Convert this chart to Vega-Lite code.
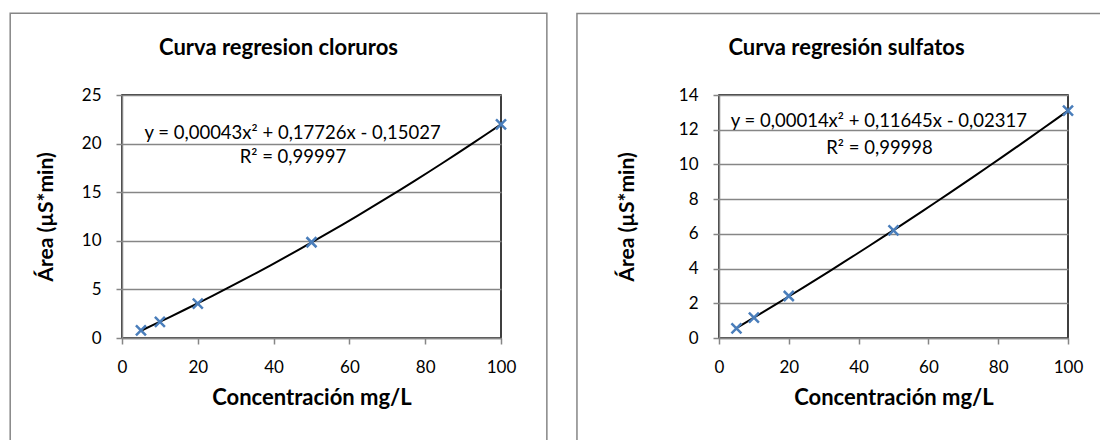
{
  "$schema": "https://vega.github.io/schema/vega-lite/v6.json",
  "autosize": {"type": "pad"},
  "padding": {"left": 8, "top": 11, "right": 0, "bottom": 0},
  "background": "white",
  "bounds": "flush",
  "spacing": 218,
  "datasets": {
    "cloruros": [
      {"conc": 5, "area": 0.79},
      {"conc": 10, "area": 1.65},
      {"conc": 20, "area": 3.53},
      {"conc": 50, "area": 9.85},
      {"conc": 100, "area": 21.98}
    ],
    "sulfatos": [
      {"conc": 5, "area": 0.56},
      {"conc": 10, "area": 1.17},
      {"conc": 20, "area": 2.42},
      {"conc": 50, "area": 6.2},
      {"conc": 100, "area": 13.1}
    ],
    "one": [{}]
  },
  "config": {
    "font": "Lato",
    "view": {"stroke": "black", "strokeWidth": 1.5},
    "title": {"font": "Lato", "fontSize": 22, "fontWeight": "bold", "color": "black", "anchor": "middle", "frame": "group", "baseline": "alphabetic"},
    "axis": {
      "labelFont": "Lato",
      "labelFontSize": 17,
      "labelColor": "black",
      "labelOverlap": false,
      "labelFlush": false,
      "titleFont": "Lato",
      "titleFontSize": 21,
      "titleFontWeight": "bold",
      "titleColor": "black",
      "domainColor": "#868686",
      "domainWidth": 1.5,
      "tickColor": "#868686",
      "tickWidth": 1.5,
      "tickSize": 6,
      "gridColor": "#868686",
      "gridWidth": 1.5,
      "labelPadding": 15
    },
    "axisX": {"grid": false, "titlePadding": 12, "titleFontSize": 22},
    "axisY": {"grid": true}
  },
  "hconcat": [
    {
      "width": 379,
      "height": 243,
      "title": {"text": "Curva regresion cloruros", "dx": -33, "offset": -47},
      "layer": [
        {
          "data": {"name": "one"},
          "mark": {"type": "rect", "fill": null, "stroke": "#868686", "strokeWidth": 1.5},
          "encoding": {
            "x": {"datum": -29.5, "type": "quantitative", "scale": {"domain": [0, 100], "nice": false}, "axis": {"values": [0, 20, 40, 60, 80, 100], "title": "Concentración mg/L"}},
            "x2": {"datum": 112.1},
            "y": {"datum": 33.4, "type": "quantitative", "scale": {"domain": [0, 25], "nice": false}, "axis": {"values": [0, 5, 10, 15, 20, 25], "title": "Área (µS*min)", "titlePadding": 25}},
            "y2": {"datum": -12}
          }
        },
        {
          "data": {"name": "cloruros"},
          "transform": [
            {"regression": "area", "on": "conc", "method": "poly", "order": 2, "extent": [5, 100]}
          ],
          "mark": {"type": "line", "color": "black", "strokeWidth": 2},
          "encoding": {
            "x": {"field": "conc", "type": "quantitative", "scale": {"domain": [0, 100], "nice": false}, "axis": {"values": [0, 20, 40, 60, 80, 100], "title": "Concentración mg/L"}},
            "y": {"field": "area", "type": "quantitative", "scale": {"domain": [0, 25], "nice": false}, "axis": {"values": [0, 5, 10, 15, 20, 25], "title": "Área (µS*min)", "titlePadding": 25}}
          }
        },
        {
          "data": {"name": "cloruros"},
          "mark": {"type": "point", "shape": "M-1,-1L1,1M-1,1L1,-1", "filled": false, "color": "#4a7ebb", "strokeWidth": 2.5, "size": 100, "opacity": 1},
          "encoding": {
            "x": {"field": "conc", "type": "quantitative", "scale": {"domain": [0, 100], "nice": false}, "axis": {"values": [0, 20, 40, 60, 80, 100], "title": "Concentración mg/L"}},
            "y": {"field": "area", "type": "quantitative", "scale": {"domain": [0, 25], "nice": false}, "axis": {"values": [0, 5, 10, 15, 20, 25], "title": "Área (µS*min)", "titlePadding": 25}}
          }
        },
        {
          "data": {"name": "one"},
          "mark": {"type": "text", "text": "y = 0,00043x² + 0,17726x - 0,15027", "fontSize": 18.5, "color": "black", "align": "center", "baseline": "middle"},
          "encoding": {
            "x": {"datum": 45.0, "type": "quantitative", "scale": {"domain": [0, 100], "nice": false}, "axis": {"values": [0, 20, 40, 60, 80, 100], "title": "Concentración mg/L"}},
            "y": {"datum": 21.1, "type": "quantitative", "scale": {"domain": [0, 25], "nice": false}, "axis": {"values": [0, 5, 10, 15, 20, 25], "title": "Área (µS*min)", "titlePadding": 25}}
          }
        },
        {
          "data": {"name": "one"},
          "mark": {"type": "text", "text": "R² = 0,99997", "fontSize": 18.5, "color": "black", "align": "center", "baseline": "middle"},
          "encoding": {
            "x": {"datum": 45.1, "type": "quantitative", "scale": {"domain": [0, 100], "nice": false}, "axis": {"values": [0, 20, 40, 60, 80, 100], "title": "Concentración mg/L"}},
            "y": {"datum": 18.6, "type": "quantitative", "scale": {"domain": [0, 25], "nice": false}, "axis": {"values": [0, 5, 10, 15, 20, 25], "title": "Área (µS*min)", "titlePadding": 25}}
          }
        }
      ]
    },
    {
      "width": 349,
      "height": 243,
      "title": {"text": "Curva regresión sulfatos", "dx": -47, "offset": -47},
      "layer": [
        {
          "data": {"name": "one"},
          "mark": {"type": "rect", "fill": null, "stroke": "#868686", "strokeWidth": 1.5},
          "encoding": {
            "x": {"datum": -40.7, "type": "quantitative", "scale": {"domain": [0, 100], "nice": false}, "axis": {"values": [0, 20, 40, 60, 80, 100], "title": "Concentración mg/L"}},
            "x2": {"datum": 125},
            "y": {"datum": 18.7, "type": "quantitative", "scale": {"domain": [0, 14], "nice": false}, "axis": {"values": [0, 2, 4, 6, 8, 10, 12, 14], "title": "Área (µS*min)", "titlePadding": 41}},
            "y2": {"datum": -7}
          }
        },
        {
          "data": {"name": "sulfatos"},
          "transform": [
            {"regression": "area", "on": "conc", "method": "poly", "order": 2, "extent": [5, 100]}
          ],
          "mark": {"type": "line", "color": "black", "strokeWidth": 2},
          "encoding": {
            "x": {"field": "conc", "type": "quantitative", "scale": {"domain": [0, 100], "nice": false}, "axis": {"values": [0, 20, 40, 60, 80, 100], "title": "Concentración mg/L"}},
            "y": {"field": "area", "type": "quantitative", "scale": {"domain": [0, 14], "nice": false}, "axis": {"values": [0, 2, 4, 6, 8, 10, 12, 14], "title": "Área (µS*min)", "titlePadding": 41}}
          }
        },
        {
          "data": {"name": "sulfatos"},
          "mark": {"type": "point", "shape": "M-1,-1L1,1M-1,1L1,-1", "filled": false, "color": "#4a7ebb", "strokeWidth": 2.5, "size": 100, "opacity": 1},
          "encoding": {
            "x": {"field": "conc", "type": "quantitative", "scale": {"domain": [0, 100], "nice": false}, "axis": {"values": [0, 20, 40, 60, 80, 100], "title": "Concentración mg/L"}},
            "y": {"field": "area", "type": "quantitative", "scale": {"domain": [0, 14], "nice": false}, "axis": {"values": [0, 2, 4, 6, 8, 10, 12, 14], "title": "Área (µS*min)", "titlePadding": 41}}
          }
        },
        {
          "data": {"name": "one"},
          "mark": {"type": "text", "text": "y = 0,00014x² + 0,11645x - 0,02317", "fontSize": 18.5, "color": "black", "align": "center", "baseline": "middle"},
          "encoding": {
            "x": {"datum": 45.8, "type": "quantitative", "scale": {"domain": [0, 100], "nice": false}, "axis": {"values": [0, 20, 40, 60, 80, 100], "title": "Concentración mg/L"}},
            "y": {"datum": 12.5, "type": "quantitative", "scale": {"domain": [0, 14], "nice": false}, "axis": {"values": [0, 2, 4, 6, 8, 10, 12, 14], "title": "Área (µS*min)", "titlePadding": 41}}
          }
        },
        {
          "data": {"name": "one"},
          "mark": {"type": "text", "text": "R² = 0,99998", "fontSize": 18.5, "color": "black", "align": "center", "baseline": "middle"},
          "encoding": {
            "x": {"datum": 46.0, "type": "quantitative", "scale": {"domain": [0, 100], "nice": false}, "axis": {"values": [0, 20, 40, 60, 80, 100], "title": "Concentración mg/L"}},
            "y": {"datum": 10.96, "type": "quantitative", "scale": {"domain": [0, 14], "nice": false}, "axis": {"values": [0, 2, 4, 6, 8, 10, 12, 14], "title": "Área (µS*min)", "titlePadding": 41}}
          }
        }
      ]
    }
  ]
}
